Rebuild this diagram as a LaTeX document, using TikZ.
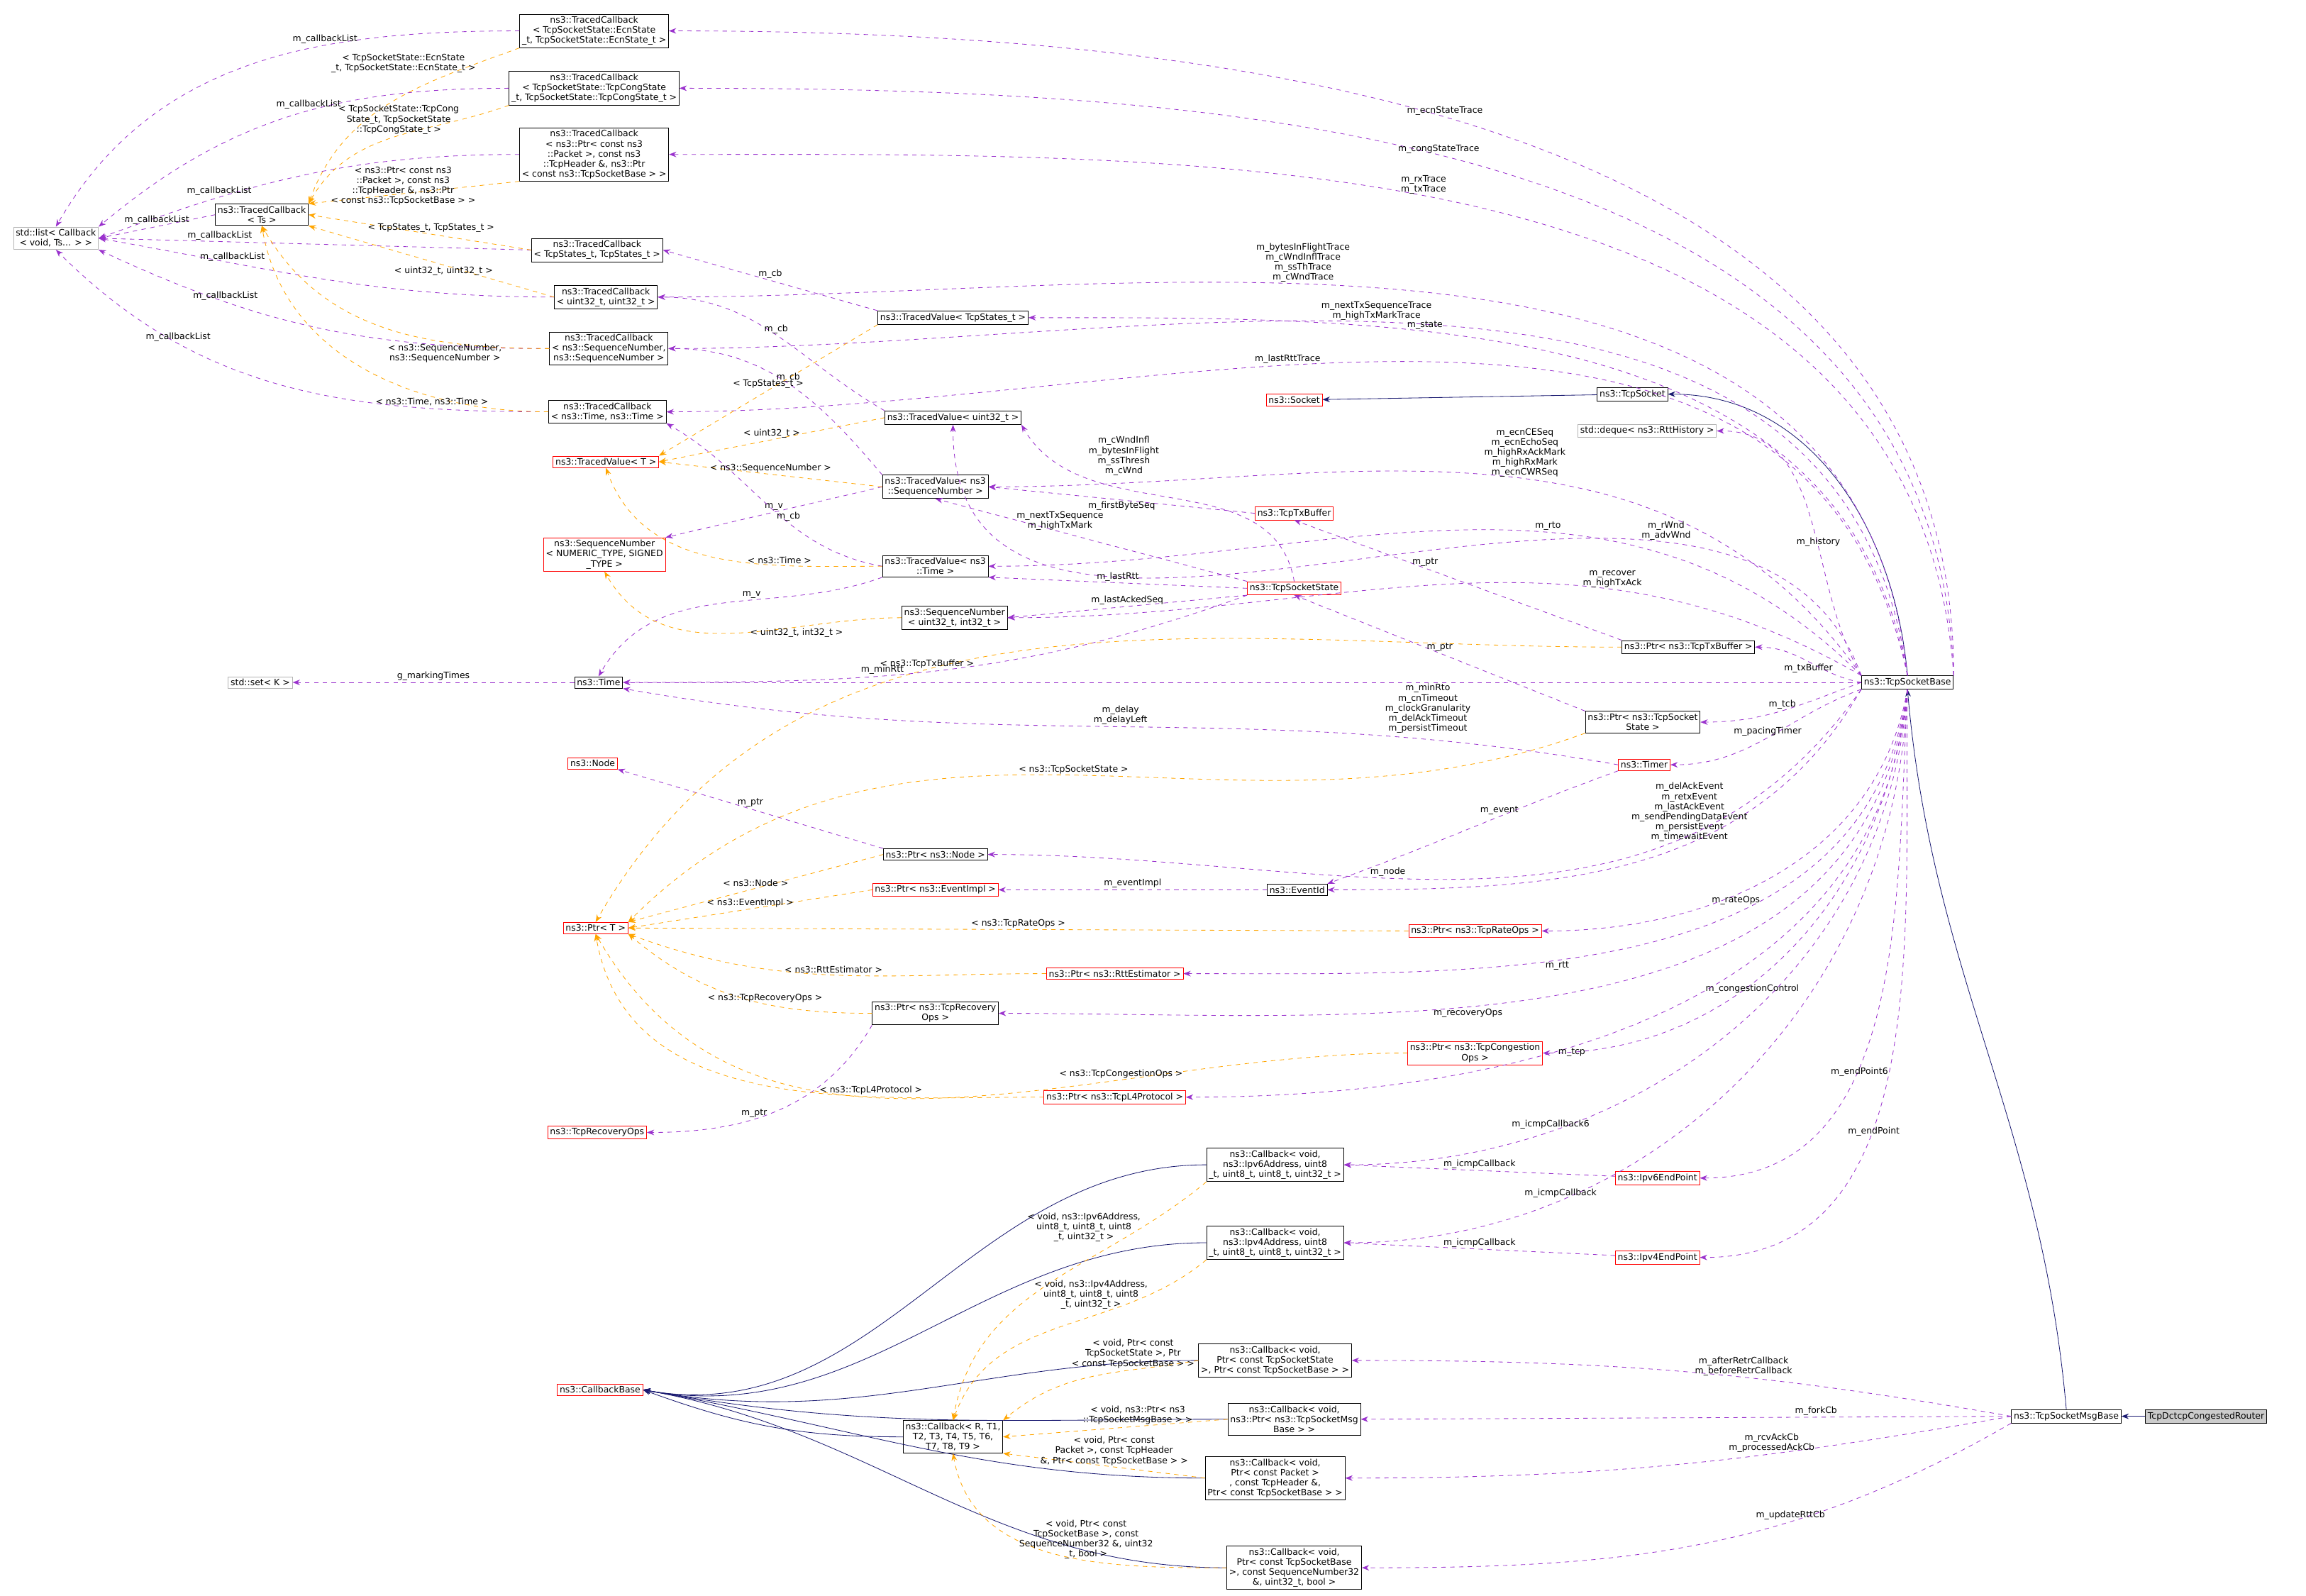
\documentclass[tikz,border=0pt]{standalone}
\usepackage{fontspec}
\setmainfont{DejaVu Sans}
\usetikzlibrary{arrows.meta}
\definecolor{navy}{RGB}{25,25,112}
\definecolor{usecol}{RGB}{154,50,205}
\definecolor{tplcol}{RGB}{255,165,0}
\begin{document}
\begin{tikzpicture}[x=1pt,y=-1pt,
  every node/.style={font=\fontsize{6}{6.8}\selectfont, align=center},
  cls/.style={draw=black, inner sep=1.6pt, fill=white},
  red/.style={draw=red, inner sep=1.6pt, fill=white},
  ext/.style={draw=gray!60, inner sep=1.6pt, fill=white},
  inh/.style={draw=navy, -{Stealth[length=5pt]}},
  use/.style={draw=usecol, dashed, -{Stealth[length=5pt]}},
  tpl/.style={draw=tplcol, dashed, -{Stealth[length=5pt]}},
  lbl/.style={fill=none, inner sep=1pt, font=\fontsize{6}{6.8}\selectfont}]
\useasboundingbox (0,0) rectangle (1568,1085);
% classes
\node[cls, fill=gray!40] (router) at (1500,963) {TcpDctcpCongestedRouter};
\node[cls] (msgbase) at (1405,963) {ns3::TcpSocketMsgBase};
\node[cls] (tsb) at (1297,464) {ns3::TcpSocketBase};
\node[cls] (tcpsock) at (1110,268) {ns3::TcpSocket};
\node[red] (socket) at (880,272) {ns3::Socket};
\node[ext] (deque) at (1120,293) {std::deque\textless{} ns3::RttHistory \textgreater{}};
\node[cls] (ptxbuf) at (1148,440) {ns3::Ptr\textless{} ns3::TcpTxBuffer \textgreater{}};
\node[cls] (ptcb) at (1117,491) {ns3::Ptr\textless{} ns3::TcpSocket\\State \textgreater{}};
\node[red] (timer) at (1118,520) {ns3::Timer};
\node[cls] (eventid) at (882,605) {ns3::EventId};
\node[red] (prate) at (1003,633) {ns3::Ptr\textless{} ns3::TcpRateOps \textgreater{}};
\node[red] (prtt) at (758,662) {ns3::Ptr\textless{} ns3::RttEstimator \textgreater{}};
\node[cls] (precov) at (636,689) {ns3::Ptr\textless{} ns3::TcpRecovery\\Ops \textgreater{}};
\node[red] (pcong) at (1003,716) {ns3::Ptr\textless{} ns3::TcpCongestion\\Ops \textgreater{}};
\node[red] (pl4) at (758,746) {ns3::Ptr\textless{} ns3::TcpL4Protocol \textgreater{}};
\node[red] (ep6) at (1127,801) {ns3::Ipv6EndPoint};
\node[red] (ep4) at (1127,855) {ns3::Ipv4EndPoint};
\node[cls] (cb6) at (867,792) {ns3::Callback\textless{} void,\\ ns3::Ipv6Address, uint8\\\_t, uint8\_t, uint8\_t, uint32\_t \textgreater{}};
\node[cls] (cb4) at (867,845) {ns3::Callback\textless{} void,\\ ns3::Ipv4Address, uint8\\\_t, uint8\_t, uint8\_t, uint32\_t \textgreater{}};
\node[cls] (cbstate) at (867,925) {ns3::Callback\textless{} void,\\ Ptr\textless{} const TcpSocketState\\ \textgreater{}, Ptr\textless{} const TcpSocketBase \textgreater{} \textgreater{}};
\node[cls] (cbmsg) at (880,965) {ns3::Callback\textless{} void,\\ ns3::Ptr\textless{} ns3::TcpSocketMsg\\Base \textgreater{} \textgreater{}};
\node[cls] (cbpkt) at (867,1005) {ns3::Callback\textless{} void,\\ Ptr\textless{} const Packet \textgreater{}\\, const TcpHeader \&,\\ Ptr\textless{} const TcpSocketBase \textgreater{} \textgreater{}};
\node[cls] (cbrtt) at (880,1066) {ns3::Callback\textless{} void,\\ Ptr\textless{} const TcpSocketBase\\ \textgreater{}, const SequenceNumber32\\ \&, uint32\_t, bool \textgreater{}};
\node[cls] (cbT) at (648,977) {ns3::Callback\textless{} R, T1,\\ T2, T3, T4, T5, T6,\\ T7, T8, T9 \textgreater{}};
\node[red] (cbbase) at (408,945) {ns3::CallbackBase};
\node[red] (recov) at (406,770) {ns3::TcpRecoveryOps};
\node[red] (ptrT) at (405,631) {ns3::Ptr\textless{} T \textgreater{}};
\node[red] (pevimpl) at (636,605) {ns3::Ptr\textless{} ns3::EventImpl \textgreater{}};
\node[cls] (pnode) at (636,581) {ns3::Ptr\textless{} ns3::Node \textgreater{}};
\node[red] (node) at (403,519) {ns3::Node};
\node[cls] (time) at (407,464) {ns3::Time};
\node[ext] (setk) at (177,464) {std::set\textless{} K \textgreater{}};
\node[cls] (seq32) at (649,420) {ns3::SequenceNumber\\\textless{} uint32\_t, int32\_t \textgreater{}};
\node[red] (tcb) at (880,400) {ns3::TcpSocketState};
\node[cls] (tvtime) at (636,385) {ns3::TracedValue\textless{} ns3\\::Time \textgreater{}};
\node[red] (txbuf) at (880,349) {ns3::TcpTxBuffer};
\node[cls] (tvseq) at (636,331) {ns3::TracedValue\textless{} ns3\\::SequenceNumber \textgreater{}};
\node[red] (seqT) at (411,377) {ns3::SequenceNumber\\\textless{} NUMERIC\_TYPE, SIGNED\\\_TYPE \textgreater{}};
\node[red] (tvT) at (412,314) {ns3::TracedValue\textless{} T \textgreater{}};
\node[cls] (tvu32) at (648,284) {ns3::TracedValue\textless{} uint32\_t \textgreater{}};
\node[cls] (tvstate) at (648,216) {ns3::TracedValue\textless{} TcpStates\_t \textgreater{}};
\node[cls] (tctime) at (413,280) {ns3::TracedCallback\\\textless{} ns3::Time, ns3::Time \textgreater{}};
\node[cls] (tcseq) at (414,237) {ns3::TracedCallback\\\textless{} ns3::SequenceNumber,\\ ns3::SequenceNumber \textgreater{}};
\node[cls] (tcu32) at (412,202) {ns3::TracedCallback\\\textless{} uint32\_t, uint32\_t \textgreater{}};
\node[cls] (tcstate) at (406,170) {ns3::TracedCallback\\\textless{} TcpStates\_t, TcpStates\_t \textgreater{}};
\node[cls] (tcTs) at (178,146) {ns3::TracedCallback\\\textless{} Ts \textgreater{}};
\node[ext] (cblist) at (38,162) {std::list\textless{} Callback\\\textless{} void, Ts... \textgreater{} \textgreater{}};
\node[cls] (tcecn) at (404,21) {ns3::TracedCallback\\\textless{} TcpSocketState::EcnState\\\_t, TcpSocketState::EcnState\_t \textgreater{}};
\node[cls] (tccong) at (404,60) {ns3::TracedCallback\\\textless{} TcpSocketState::TcpCongState\\\_t, TcpSocketState::TcpCongState\_t \textgreater{}};
\node[cls] (tcpkt) at (404,105) {ns3::TracedCallback\\\textless{} ns3::Ptr\textless{} const ns3\\::Packet \textgreater{}, const ns3\\::TcpHeader \&, ns3::Ptr\\\textless{} const ns3::TcpSocketBase \textgreater{} \textgreater{}};

% inheritance
\draw[inh] (router) -- (msgbase);
\draw[inh] (msgbase.north) to[out=95,in=-85] (tsb.south);
\draw[inh] (tsb.north) to[out=95,in=0] (tcpsock.east);
\draw[inh] (tcpsock) -- (socket);
\foreach \c in {cb6,cb4,cbstate,cbmsg,cbpkt,cbrtt}
  \draw[inh] (\c.west) to[out=180,in=-10] (cbbase.east);
\draw[inh] (cbT.west) to[out=180,in=-20] (cbbase.east);

% members of TcpSocketBase
\draw[use] (tsb.north east) to[out=90,in=0] node[lbl,pos=0.55,above]{m\_ecnStateTrace} (tcecn.east);
\draw[use] (tsb.north east) to[out=92,in=0] node[lbl,pos=0.55,above]{m\_congStateTrace} (tccong.east);
\draw[use] (tsb.north east) to[out=94,in=0] node[lbl,pos=0.55,above]{m\_rxTrace\\m\_txTrace} (tcpkt.east);
\draw[use] (tsb.north) to[out=96,in=0] node[lbl,pos=0.6,above]{m\_bytesInFlightTrace\\m\_cWndInflTrace\\m\_ssThTrace\\m\_cWndTrace} (tcu32.east);
\draw[use] (tsb.north) to[out=98,in=0] node[lbl,pos=0.55,above]{m\_nextTxSequenceTrace\\m\_highTxMarkTrace} (tcseq.east);
\draw[use] (tsb.north) to[out=100,in=0] node[lbl,pos=0.65,above]{m\_state} (tvstate.east);
\draw[use] (tsb.north) to[out=102,in=0] node[lbl,pos=0.6,above]{m\_lastRttTrace} (tctime.east);
\draw[use] (tsb.north west) to[out=110,in=-90] node[lbl,pos=0.25,above]{m\_rWnd\\m\_advWnd} (tvu32.south);
\draw[use] (tsb.north west) to[out=120,in=0] node[lbl,pos=0.4,above]{m\_history} (deque.east);
\draw[use] (tsb.north west) to[out=125,in=0] node[lbl,pos=0.45,above]{m\_ecnCESeq\\m\_ecnEchoSeq\\m\_highRxAckMark\\m\_highRxMark\\m\_ecnCWRSeq} (tvseq.east);
\draw[use] (tsb.north west) to[out=135,in=0] node[lbl,pos=0.4,above]{m\_rto} (tvtime.east);
\draw[use] (tsb.north west) to[out=150,in=0] node[lbl,pos=0.3,above]{m\_recover\\m\_highTxAck} (seq32.east);
\draw[use] (tsb.west) -- node[lbl,pos=0.35,below]{m\_minRto\\m\_cnTimeout\\m\_clockGranularity\\m\_delAckTimeout\\m\_persistTimeout} (time.east);
\draw[use] (tsb.west) to[out=170,in=0] node[lbl,pos=0.5,below]{m\_txBuffer} (ptxbuf.east);
\draw[use] (tsb.west) to[out=200,in=0] node[lbl,pos=0.5,above]{m\_tcb} (ptcb.east);
\draw[use] (tsb.south west) to[out=200,in=0] node[lbl,pos=0.5,above]{m\_pacingTimer} (timer.east);
\draw[use] (tsb.south west) to[out=240,in=0] node[lbl,pos=0.4,above]{m\_delAckEvent\\m\_retxEvent\\m\_lastAckEvent\\m\_sendPendingDataEvent\\m\_persistEvent\\m\_timewaitEvent} (eventid.east);
\draw[use] (tsb.south west) to[out=235,in=0] node[lbl,pos=0.6,above]{m\_node} (pnode.east);
\draw[use] (tsb.south) to[out=-100,in=0] node[lbl,pos=0.6,below]{m\_rateOps} (prate.east);
\draw[use] (tsb.south) to[out=-98,in=0] node[lbl,pos=0.6,below]{m\_rtt} (prtt.east);
\draw[use] (tsb.south) to[out=-97,in=0] node[lbl,pos=0.6,below]{m\_recoveryOps} (precov.east);
\draw[use] (tsb.south) to[out=-96,in=0] node[lbl,pos=0.6,below]{m\_congestionControl} (pcong.east);
\draw[use] (tsb.south) to[out=-95,in=0] node[lbl,pos=0.6,below]{m\_tcp} (pl4.east);
\draw[use] (tsb.south) to[out=-94,in=0] node[lbl,pos=0.75,above]{m\_icmpCallback6} (cb6.east);
\draw[use] (tsb.south) to[out=-93,in=0] node[lbl,pos=0.6,below]{m\_endPoint6} (ep6.east);
\draw[use] (tsb.south) to[out=-92,in=0] node[lbl,pos=0.75,above]{m\_icmpCallback} (cb4.east);
\draw[use] (tsb.south) to[out=-91,in=0] node[lbl,pos=0.6,below]{m\_endPoint} (ep4.east);

% members of TcpSocketMsgBase
\draw[use] (msgbase.west) to[out=170,in=0] node[lbl,pos=0.4,above]{m\_afterRetrCallback\\m\_beforeRetrCallback} (cbstate.east);
\draw[use] (msgbase.west) -- node[lbl,pos=0.3,above]{m\_forkCb} (cbmsg.east);
\draw[use] (msgbase.west) to[out=190,in=0] node[lbl,pos=0.35,above]{m\_rcvAckCb\\m\_processedAckCb} (cbpkt.east);
\draw[use] (msgbase.south west) to[out=210,in=0] node[lbl,pos=0.35,above]{m\_updateRttCb} (cbrtt.east);

% other members
\draw[use] (ep6) -- node[lbl,above]{m\_icmpCallback} (cb6.east);
\draw[use] (ep4) -- node[lbl,above]{m\_icmpCallback} (cb4.east);
\draw[use] (tcb.north) to[out=100,in=-60] node[lbl,pos=0.75,above right]{m\_cWndInfl\\m\_bytesInFlight\\m\_ssThresh\\m\_cWnd} (tvu32.south east);
\draw[use] (tcb.north west) -- node[lbl,pos=0.6,above]{m\_nextTxSequence\\m\_highTxMark} (tvseq.south);
\draw[use] (tcb.west) -- node[lbl,pos=0.5,above]{m\_lastRtt} (tvtime.south east);
\draw[use] (tcb.south west) -- node[lbl,pos=0.5,above]{m\_lastAckedSeq} (seq32.east);
\draw[use] (tcb.south west) to[out=200,in=0] node[lbl,pos=0.6,above]{m\_minRtt} (time.east);
\draw[use] (txbuf.west) -- node[lbl,pos=0.5,below]{m\_firstByteSeq} (tvseq.east);
\draw[use] (ptxbuf.north west) -- node[lbl,pos=0.6,above]{m\_ptr} (txbuf.south);
\draw[use] (ptcb.north west) -- node[lbl,pos=0.5,above]{m\_ptr} (tcb.south);
\draw[use] (timer.west) to[out=170,in=-10] node[lbl,pos=0.5,above]{m\_delay\\m\_delayLeft} (time.south east);
\draw[use] (timer.south west) to[out=200,in=20] node[lbl,pos=0.4,above]{m\_event} (eventid.north east);
\draw[use] (eventid.west) -- node[lbl,above]{m\_eventImpl} (pevimpl.east);
\draw[use] (pnode.north west) -- node[lbl,above]{m\_ptr} (node.south east);
\draw[use] (precov.south west) to[out=240,in=0] node[lbl,pos=0.6,above]{m\_ptr} (recov.east);
\draw[use] (time.west) -- node[lbl,above]{g\_markingTimes} (setk.east);
\draw[use] (tvstate.north west) -- node[lbl,above]{m\_cb} (tcstate.east);
\draw[use] (tvu32.north west) to[out=150,in=0] node[lbl,pos=0.5,above]{m\_cb} (tcu32.east);
\draw[use] (tvseq.north west) to[out=130,in=0] node[lbl,pos=0.5,above]{m\_cb} (tcseq.east);
\draw[use] (tvseq.west) -- node[lbl,pos=0.5,above]{m\_v} (seqT.north east);
\draw[use] (tvtime.west) to[out=170,in=-30] node[lbl,pos=0.4,above]{m\_cb} (tctime.south east);
\draw[use] (tvtime.south west) to[out=200,in=60] node[lbl,pos=0.4,above]{m\_v} (time.north);
\draw[use] (tcecn.west) to[out=180,in=60] node[lbl,pos=0.35,above]{m\_callbackList} (cblist.north);
\draw[use] (tccong.west) to[out=180,in=40] node[lbl,pos=0.45,above]{m\_callbackList} (cblist.north east);
\draw[use] (tcpkt.west) to[out=180,in=20] node[lbl,pos=0.72,above]{m\_callbackList} (cblist.east);
\draw[use] (tcTs.west) -- node[lbl,above]{m\_callbackList} (cblist.east);
\draw[use] (tcstate.west) -- node[lbl,pos=0.72,above]{m\_callbackList} (cblist.east);
\draw[use] (tcu32.west) to[out=180,in=-10] node[lbl,pos=0.72,above]{m\_callbackList} (cblist.east);
\draw[use] (tcseq.west) to[out=180,in=-25] node[lbl,pos=0.72,above]{m\_callbackList} (cblist.south east);
\draw[use] (tctime.west) to[out=180,in=-45] node[lbl,pos=0.72,above]{m\_callbackList} (cblist.south);

% template instances
\draw[tpl] (tcecn.south west) to[out=200,in=70] node[lbl,pos=0.15,left]{\textless{} TcpSocketState::EcnState\\\_t, TcpSocketState::EcnState\_t \textgreater{}} (tcTs.north east);
\draw[tpl] (tccong.south west) to[out=200,in=60] node[lbl,pos=0.2,left]{\textless{} TcpSocketState::TcpCong\\State\_t, TcpSocketState\\::TcpCongState\_t \textgreater{}} (tcTs.north east);
\draw[tpl] (tcpkt.south west) -- node[lbl,pos=0.2,left]{\textless{} ns3::Ptr\textless{} const ns3\\::Packet \textgreater{}, const ns3\\::TcpHeader \&, ns3::Ptr\\\textless{} const ns3::TcpSocketBase \textgreater{} \textgreater{}} (tcTs.north east);
\draw[tpl] (tcstate.west) -- node[lbl,pos=0.45,above]{\textless{} TcpStates\_t, TcpStates\_t \textgreater{}} (tcTs.east);
\draw[tpl] (tcu32.west) -- node[lbl,pos=0.45,below]{\textless{} uint32\_t, uint32\_t \textgreater{}} (tcTs.south east);
\draw[tpl] (tcseq.west) to[out=180,in=-60] node[lbl,pos=0.3,below]{\textless{} ns3::SequenceNumber,\\ ns3::SequenceNumber \textgreater{}} (tcTs.south);
\draw[tpl] (tctime.west) to[out=180,in=-80] node[lbl,pos=0.3,below]{\textless{} ns3::Time, ns3::Time \textgreater{}} (tcTs.south);
\draw[tpl] (tvstate.south west) -- node[lbl,pos=0.5,above]{\textless{} TcpStates\_t \textgreater{}} (tvT.north east);
\draw[tpl] (tvu32.west) -- node[lbl,pos=0.5,above]{\textless{} uint32\_t \textgreater{}} (tvT.east);
\draw[tpl] (tvseq.west) -- node[lbl,pos=0.5,above]{\textless{} ns3::SequenceNumber \textgreater{}} (tvT.east);
\draw[tpl] (tvtime.west) to[out=180,in=-70] node[lbl,pos=0.3,above]{\textless{} ns3::Time \textgreater{}} (tvT.south);
\draw[tpl] (seq32.west) to[out=180,in=-60] node[lbl,pos=0.3,below]{\textless{} uint32\_t, int32\_t \textgreater{}} (seqT.south);
\draw[tpl] (ptxbuf.west) to[out=180,in=60] node[lbl,pos=0.6,above]{\textless{} ns3::TcpTxBuffer \textgreater{}} (ptrT.north);
\draw[tpl] (ptcb.south west) to[out=200,in=45] node[lbl,pos=0.5,above]{\textless{} ns3::TcpSocketState \textgreater{}} (ptrT.north east);
\draw[tpl] (pnode.west) -- node[lbl,pos=0.5,above]{\textless{} ns3::Node \textgreater{}} (ptrT.north east);
\draw[tpl] (pevimpl.west) -- node[lbl,pos=0.5,above]{\textless{} ns3::EventImpl \textgreater{}} (ptrT.east);
\draw[tpl] (prate.west) -- node[lbl,pos=0.5,above]{\textless{} ns3::TcpRateOps \textgreater{}} (ptrT.east);
\draw[tpl] (prtt.west) to[out=180,in=-20] node[lbl,pos=0.5,above]{\textless{} ns3::RttEstimator \textgreater{}} (ptrT.south east);
\draw[tpl] (precov.west) to[out=180,in=-40] node[lbl,pos=0.4,above]{\textless{} ns3::TcpRecoveryOps \textgreater{}} (ptrT.south east);
\draw[tpl] (pcong.west) to[out=180,in=-60] node[lbl,pos=0.3,above]{\textless{} ns3::TcpCongestionOps \textgreater{}} (ptrT.south);
\draw[tpl] (pl4.west) to[out=180,in=-80] node[lbl,pos=0.3,above]{\textless{} ns3::TcpL4Protocol \textgreater{}} (ptrT.south);
\draw[tpl] (cb6.south west) to[out=220,in=80] node[lbl,pos=0.2,left]{\textless{} void, ns3::Ipv6Address,\\ uint8\_t, uint8\_t, uint8\\\_t, uint32\_t \textgreater{}} (cbT.north);
\draw[tpl] (cb4.south west) to[out=220,in=70] node[lbl,pos=0.2,left]{\textless{} void, ns3::Ipv4Address,\\ uint8\_t, uint8\_t, uint8\\\_t, uint32\_t \textgreater{}} (cbT.north);
\draw[tpl] (cbstate.west) to[out=190,in=40] node[lbl,pos=0.3,above]{\textless{} void, Ptr\textless{} const\\ TcpSocketState \textgreater{}, Ptr\\\textless{} const TcpSocketBase \textgreater{} \textgreater{}} (cbT.north east);
\draw[tpl] (cbmsg.west) -- node[lbl,pos=0.4,above]{\textless{} void, ns3::Ptr\textless{} ns3\\::TcpSocketMsgBase \textgreater{} \textgreater{}} (cbT.east);
\draw[tpl] (cbpkt.west) -- node[lbl,pos=0.45,above]{\textless{} void, Ptr\textless{} const\\ Packet \textgreater{}, const TcpHeader\\ \&, Ptr\textless{} const TcpSocketBase \textgreater{} \textgreater{}} (cbT.south east);
\draw[tpl] (cbrtt.west) to[out=180,in=-80] node[lbl,pos=0.4,above]{\textless{} void, Ptr\textless{} const\\ TcpSocketBase \textgreater{}, const\\ SequenceNumber32 \&, uint32\\\_t, bool \textgreater{}} (cbT.south);
\end{tikzpicture}
\end{document}
